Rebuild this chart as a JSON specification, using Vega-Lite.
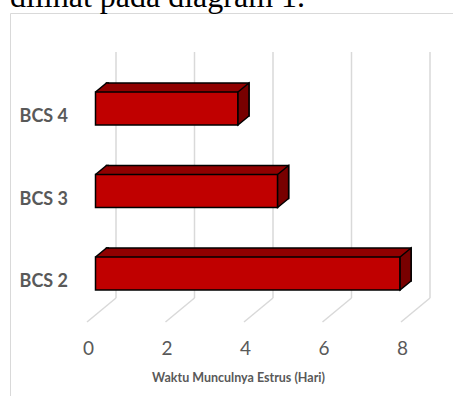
{
  "$schema": "https://vega.github.io/schema/vega-lite/v6.json",
  "width": 443,
  "height": 383,
  "autosize": {"type": "none"},
  "padding": {"left": 10, "top": 13, "right": 0, "bottom": 0},
  "background": "white",
  "title": {
    "text": "dilihat pada diagram 1.",
    "font": "Liberation Serif",
    "fontSize": 32,
    "fontWeight": "normal",
    "color": "#000000",
    "anchor": "start",
    "frame": "group",
    "orient": "top",
    "baseline": "alphabetic",
    "offset": -25.5
  },
  "datasets": {
    "bars": [
      {"kategori": "BCS 4", "hari": 3.63},
      {"kategori": "BCS 3", "hari": 4.64},
      {"kategori": "BCS 2", "hari": 7.76}
    ],
    "ticks": [
      {"t": 0, "atas": "BCS 4", "bawah": "BCS 2"},
      {"t": 2, "atas": "BCS 4", "bawah": "BCS 2"},
      {"t": 4, "atas": "BCS 4", "bawah": "BCS 2"},
      {"t": 6, "atas": "BCS 4", "bawah": "BCS 2"},
      {"t": 8, "atas": "BCS 4", "bawah": "BCS 2"}
    ]
  },
  "layer": [
    {
      "data": {"name": "ticks"},
      "mark": {"type": "rule", "color": "#D9D9D9", "strokeWidth": 1.5, "xOffset": 20.5, "yOffset": -56.5, "y2Offset": 24.5},
      "encoding": {
        "x": {"field": "t", "type": "quantitative", "scale": {"domain": [0, 8], "range": [85.5, 399.5], "nice": false, "zero": false},
          "axis": {"values": [0, 2, 4, 6, 8], "format": "d", "title": "Waktu Munculnya Estrus (Hari)", "domain": false, "ticks": false, "tickSize": 0, "grid": false,
            "labelFlush": false, "labelOverlap": false,
            "labelPadding": -48, "labelOffset": -7.5, "labelBaseline": "middle", "labelFont": "Lato", "labelFontSize": 19, "labelColor": "#595959",
            "titleFont": "Lato", "titleFontSize": 12.5, "titleFontWeight": "bold", "titleColor": "#595959", "titleX": 228, "titleY": -19, "titleAlign": "center", "titleBaseline": "middle"}},
        "y": {"field": "atas", "type": "nominal", "scale": {"domain": ["BCS 4", "BCS 3", "BCS 2"], "range": [54.25, 301.75], "paddingInner": 0, "paddingOuter": 0},
          "axis": {"title": null, "domain": false, "ticks": false, "tickSize": 0, "grid": false, "labelAlign": "right", "labelBaseline": "middle",
            "labelPadding": -57.5, "labelOffset": 8.5, "labelFont": "Lato", "labelFontSize": 18, "labelFontWeight": "bold", "labelColor": "#595959"}},
        "y2": {"field": "bawah"}
      }
    },
    {
      "data": {"name": "ticks"},
      "mark": {"type": "rule", "color": "#D9D9D9", "strokeWidth": 1.5, "xOffset": 20.5, "x2Offset": -8.5, "yOffset": 24.5, "y2Offset": 48.5},
      "encoding": {
        "x": {"field": "t", "type": "quantitative"},
        "x2": {"field": "t"},
        "y": {"field": "bawah", "type": "nominal"},
        "y2": {"field": "bawah"}
      }
    },
    {
      "data": {"name": "bars"},
      "mark": {"type": "bar", "fill": "#900000", "stroke": "#000000", "strokeWidth": 1.5, "height": 33, "xOffset": 11, "yOffset": -9},
      "encoding": {
        "x": {"field": "hari", "type": "quantitative"},
        "y": {"field": "kategori", "type": "nominal"}
      }
    },
    {
      "data": {"name": "bars"},
      "mark": {"type": "point", "shape": "M0,-16.5L11,-25.5L12.5,-25.5L12.5,-16.5Z", "size": 4, "filled": true, "fill": "#900000", "strokeWidth": 0, "opacity": 1},
      "encoding": {
        "x": {"datum": 0, "type": "quantitative"},
        "y": {"field": "kategori", "type": "nominal"}
      }
    },
    {
      "data": {"name": "bars"},
      "mark": {"type": "point", "shape": "M0,-16.5L11,-25.5L13.5,-25.5", "size": 4, "filled": false, "stroke": "#000000", "strokeWidth": 1.5, "opacity": 1},
      "encoding": {
        "x": {"datum": 0, "type": "quantitative"},
        "y": {"field": "kategori", "type": "nominal"}
      }
    },
    {
      "data": {"name": "bars"},
      "mark": {"type": "bar", "fill": "#C00000", "stroke": "#000000", "strokeWidth": 1.5, "height": 33},
      "encoding": {
        "x": {"field": "hari", "type": "quantitative"},
        "y": {"field": "kategori", "type": "nominal"}
      }
    },
    {
      "data": {"name": "bars"},
      "mark": {"type": "point", "shape": "M0,-16.5L11,-25.5L11,7.5L0,16.5Z", "size": 4, "filled": true, "fill": "#780000", "stroke": "#000000", "strokeWidth": 1.5, "opacity": 1},
      "encoding": {
        "x": {"field": "hari", "type": "quantitative"},
        "y": {"field": "kategori", "type": "nominal"}
      }
    }
  ],
  "config": {
    "view": {"stroke": "#D9D9D9", "strokeWidth": 1}
  }
}
